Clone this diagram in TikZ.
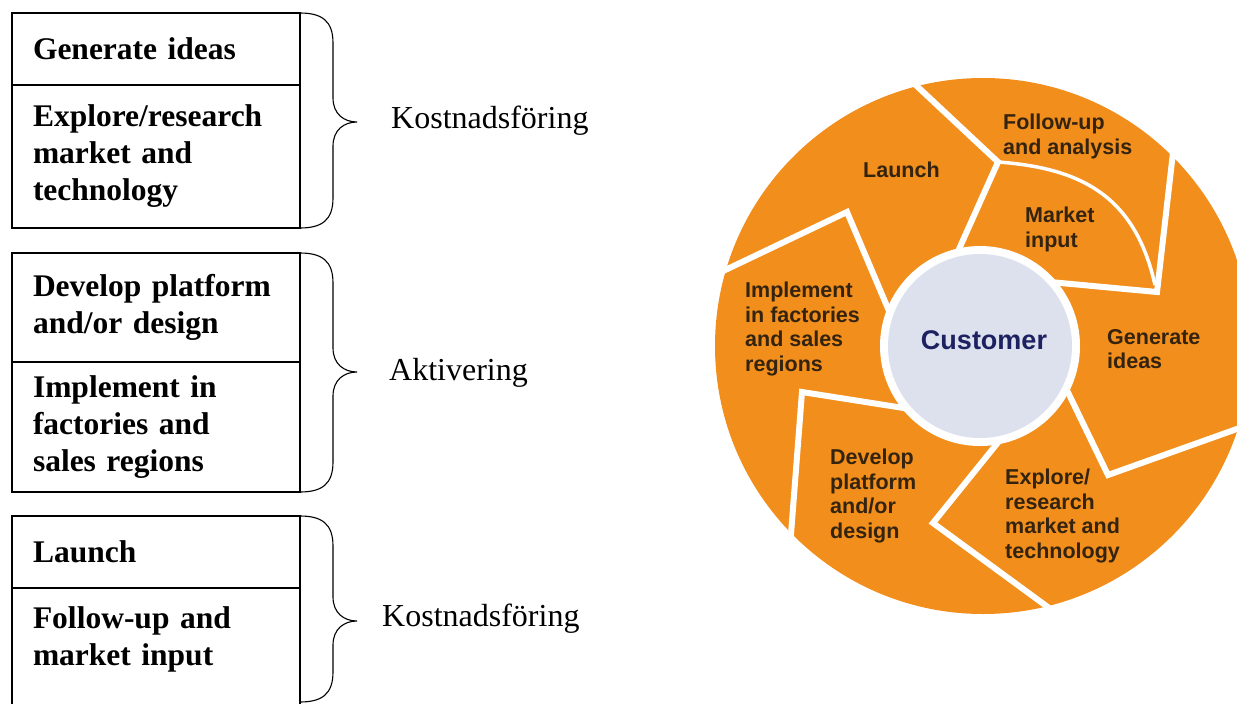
\documentclass[tikz,border=0pt]{standalone}
\usepackage{fontspec}
\setmainfont{Liberation Serif}
\setsansfont{Liberation Sans}
\usetikzlibrary{positioning}
\definecolor{wheelorange}{HTML}{F18E1C}
\definecolor{wheelink}{HTML}{33230F}
\definecolor{hubfill}{HTML}{DDE1EE}
\definecolor{hubink}{HTML}{1E2160}
% x, top, bottom, tip
\newcommand{\grpbrace}[4]{%
  \draw[brc] (#1,#2) .. controls (#1+22,#2) and (#1+33,#2+8) .. (#1+33,#2+30)
    -- (#1+33,#4-24) .. controls (#1+33,#4-8) and (#1+44,#4) .. (#1+57,#4)
    .. controls (#1+44,#4) and (#1+33,#4+8) .. (#1+33,#4+24)
    -- (#1+33,#3-30) .. controls (#1+33,#3-8) and (#1+22,#3) .. (#1,#3);}

\begin{document}
\begin{tikzpicture}[x=1pt,y=-1pt,
  cell/.style={draw,line width=1.1pt,outer sep=0pt,anchor=north west,
               minimum width=288pt,text width=246pt,inner xsep=21pt,
               align=left,font=\fontsize{31.5}{37}\selectfont\bfseries},
  brc/.style={line width=1.1pt},
  lbl/.style={anchor=west,inner sep=0pt,font=\fontsize{32}{38}\selectfont},
  sep/.style={white,line width=6pt},
  seam/.style={white,line width=3.5pt},
  wlbl/.style={anchor=north west,inner sep=0pt,align=left,text=wheelink,
               font=\fontsize{21.5}{24.5}\selectfont\sffamily\bfseries},
  hub/.style={circle,fill=hubfill,minimum size=184pt,inner sep=0pt},
  ctxt/.style={text=hubink,font=\fontsize{27}{32}\selectfont\sffamily\bfseries}
]
\clip (0,0) rectangle (1237,704);

% left column
\node[cell,minimum height=72pt] (gen) at (12,13) {Generate ideas};
\node[cell,minimum height=143pt,below=0pt of gen] (expl)
  {Explore/research\\ market and\\ technology};
\node[cell,minimum height=109pt] (dev) at (12,253)
  {Develop platform\\ and/or design};
\node[cell,minimum height=130pt,below=0pt of dev] (impl)
  {Implement in\\ factories and\\ sales regions};
\node[cell,minimum height=72pt] (launch) at (12,516) {Launch};
\node[cell,minimum height=125pt,text depth=66pt,below=0pt of launch] (follow)
  {Follow-up and\\ market input};

\grpbrace{300}{13}{228}{122}
\grpbrace{300}{253}{492}{372}
\grpbrace{300}{516}{702}{621}

\node[lbl] (kost1) at (391,121) {Kostnadsföring};
\node[lbl] (akt) at (389,373) {Aktivering};
\node[lbl] (kost2) at (382,619) {Kostnadsföring};

% wheel
\fill[wheelorange] (983,346) circle (268);
\draw[sep] (905,75) -- (998,162) -- (955,258);
\draw[sep] (1175,135) -- (1157,292) -- (1050,282);
\draw[sep] (1262,420) -- (1108,475) -- (1062,380);
\draw[sep] (1060,616) -- (933,523) -- (1008,430);
\draw[sep] (789,560) -- (802,392) -- (910,409);
\draw[sep] (700,282) -- (847,212) -- (892,318);
\draw[seam] (998,162) .. controls (1080,168) and (1135,195) .. (1155,285);
\fill[white] (980,346) circle (100);
\node[hub] (hub) at (980,346) {};
\node[ctxt] (cust) at (984,340) {Customer};

\node[wlbl] (wlaunch) at (863,162) {Launch};
\node[wlbl] (wfollow) at (1003,114) {Follow-up\\ and analysis};
\node[wlbl] (wmarket) at (1025,207) {Market\\ input};
\node[wlbl] (wgen) at (1107,329) {Generate\\ ideas};
\node[wlbl] (wexpl) at (1005,469) {Explore/\\ research\\ market and\\ technology};
\node[wlbl] (wdev) at (830,449) {Develop\\ platform\\ and/or\\ design};
\node[wlbl] (wimpl) at (745,282) {Implement\\ in factories\\ and sales\\ regions};
\end{tikzpicture}
\end{document}
